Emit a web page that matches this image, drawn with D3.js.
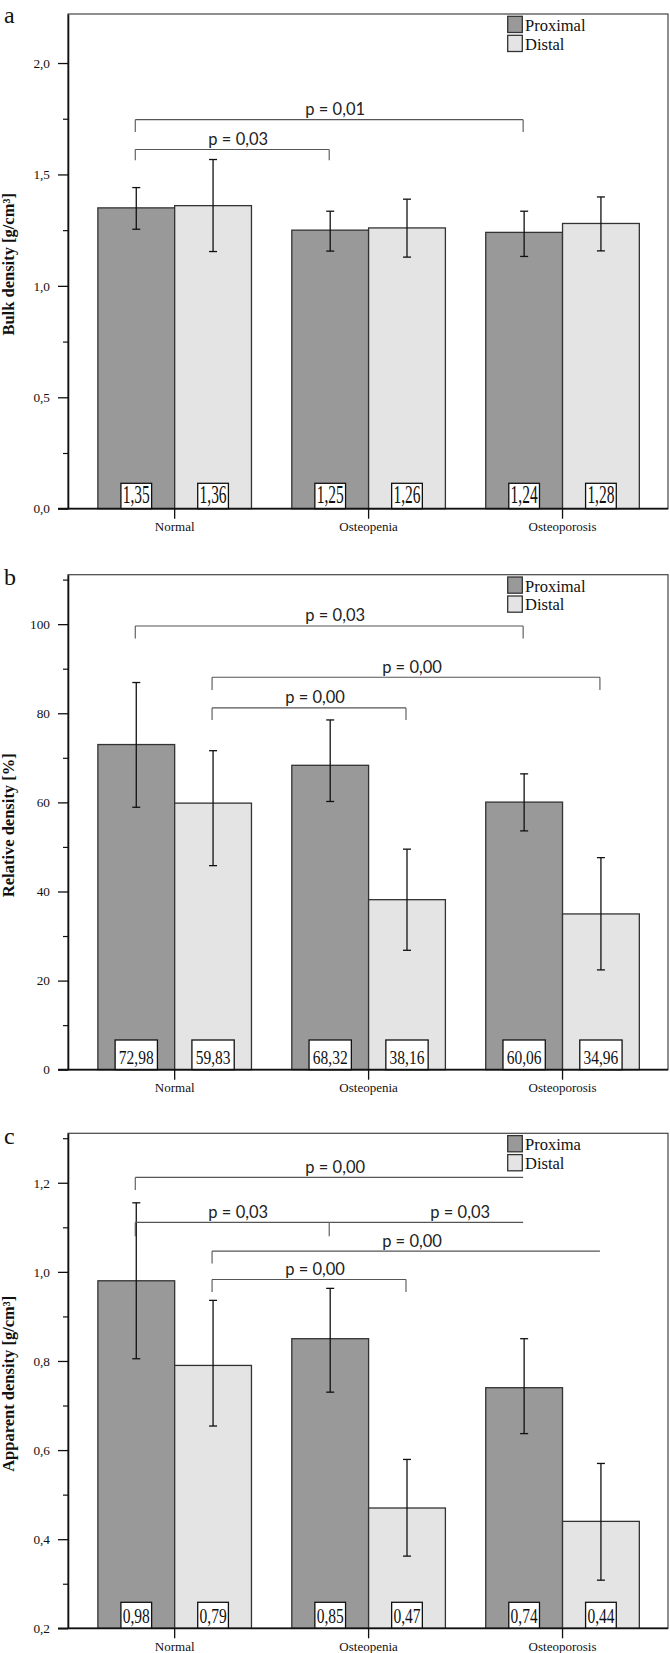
<!DOCTYPE html>
<html><head><meta charset="utf-8">
<script src="https://cdn.jsdelivr.net/npm/d3@7"></script>
<style>body{margin:0;background:#fff} svg{display:block}</style>
</head><body><svg id="chart" width="670" height="1653"></svg>
<script>
const categories = ["Normal", "Osteopenia", "Osteoporosis"];
const seriesNames = ["Proximal", "Distal"];

// Panel a: Bulk density
const bulkProximal = [1.35, 1.25, 1.24];
const bulkDistal = [1.36, 1.26, 1.28];
const bulkProximalHi = [1.441, 1.335, 1.335];
const bulkProximalLo = [1.254, 1.156, 1.132];
const bulkDistalHi = [1.567, 1.389, 1.399];
const bulkDistalLo = [1.154, 1.129, 1.157];
const bulkTicks = [0, 0.5, 1.0, 1.5, 2.0];
const bulkMinorTicks = [0.25, 0.75, 1.25, 1.75];
const bulkBrackets = [
  {from: [0, 0], to: [2, 0], y: 1.746, leg: 1.69, legs: "both", label: "p = 0,01"},
  {from: [0, 0], to: [1, 0], y: 1.612, leg: 1.564, legs: "both", label: "p = 0,03"}
];

// Panel b: Relative density
const relProximal = [72.98, 68.32, 60.06];
const relDistal = [59.83, 38.16, 34.96];
const relProximalHi = [86.9, 78.5, 66.4];
const relProximalLo = [58.9, 60.2, 53.6];
const relDistalHi = [71.6, 49.5, 47.6];
const relDistalLo = [45.8, 26.8, 22.4];
const relTicks = [0, 20, 40, 60, 80, 100];
const relMinorTicks = [10, 30, 50, 70, 90, 110];
const relBrackets = [
  {from: [0, 0], to: [2, 0], y: 99.6, leg: 96.8, legs: "both", label: "p = 0,03"},
  {from: [0, 1], to: [2, 1], y: 88.1, leg: 85.2, legs: "both", label: "p = 0,00"},
  {from: [0, 1], to: [1, 1], y: 81.2, leg: 78.5, legs: "both", label: "p = 0,00"}
];

// Panel c: Apparent density
const appProximal = [0.98, 0.85, 0.74];
const appDistal = [0.79, 0.47, 0.44];
const appProximalHi = [1.155, 0.963, 0.850];
const appProximalLo = [0.805, 0.730, 0.637];
const appDistalHi = [0.936, 0.579, 0.570];
const appDistalLo = [0.654, 0.362, 0.308];
const appTicks = [0.2, 0.4, 0.6, 0.8, 1.0, 1.2];
const appMinorTicks = [0.3, 0.5, 0.7, 0.9, 1.1, 1.3];
const appBrackets = [
  {from: [0, 0], to: [2, 0], y: 1.212, leg: 1.184, legs: "left", label: "p = 0,00"},
  {from: [0, 0], to: [1, 0], y: 1.111, leg: 1.08, legs: "both", label: "p = 0,03"},
  {from: [1, 0], to: [2, 0], y: 1.111, leg: 1.08, legs: "none", label: "p = 0,03"},
  {from: [0, 1], to: [2, 1], y: 1.0465, leg: 1.019, legs: "left", label: "p = 0,00"},
  {from: [0, 1], to: [1, 1], y: 0.983, leg: 0.955, legs: "both", label: "p = 0,00"}
];

const panels = [
  {letter: "a", letterY: 22.7, top: 14, bottom: 508.7, domain: [0, 2.22], title: "Bulk density [g/cm³]",
   values: [bulkProximal, bulkDistal], hi: [bulkProximalHi, bulkDistalHi], lo: [bulkProximalLo, bulkDistalLo],
   ticks: bulkTicks, minor: bulkMinorTicks, tickFmt: ".1f", brackets: bulkBrackets,
   legend: ["Proximal", "Distal"], boxW: 30.7, boxH: 25.4, labelScale: 1.6, nudge: []},
  {letter: "b", letterY: 585, top: 574.7, bottom: 1069.7, domain: [0, 111.1], title: "Relative density [%]",
   values: [relProximal, relDistal], hi: [relProximalHi, relDistalHi], lo: [relProximalLo, relDistalLo],
   ticks: relTicks, minor: relMinorTicks, tickFmt: "d", brackets: relBrackets,
   legend: ["Proximal", "Distal"], boxW: 42.3, boxH: 29.7, labelScale: 1.26, nudge: []},
  {letter: "c", letterY: 1143.5, top: 1133.3, bottom: 1628.3, domain: [0.2, 1.311], title: "Apparent density [g/cm³]",
   values: [appProximal, appDistal], hi: [appProximalHi, appDistalHi], lo: [appProximalLo, appDistalLo],
   ticks: appTicks, minor: appMinorTicks, tickFmt: ".1f", brackets: appBrackets,
   legend: ["Proxima", "Distal"], boxW: 30.7, boxH: 26, labelScale: 1.4, nudge: [0, 0, 28, 0, 0]}
];

const L = 68, R = 668;
const serif = "'Liberation Serif', 'Times New Roman', serif";
const sans = "Lato, 'Liberation Sans', Arial, sans-serif";
const fills = ["#999999", "#e4e4e4"];
const svg = d3.select("#chart");
svg.append("rect").attr("width", 670).attr("height", 1653).attr("fill", "#fff");

const x0 = d3.scaleBand().domain(categories).range([77.7, 659.5]).paddingInner(0.208).paddingOuter(0.104);
const x1 = d3.scaleBand().domain(seriesNames).range([0, x0.bandwidth()]);
const comma = f => v => d3.format(f)(v).replace(".", ",");

function drawPanel(p) {
  const g = svg.append("g");
  const y = d3.scaleLinear().domain(p.domain).range([p.bottom, p.top]);
  const barX = (ci, si) => x0(categories[ci]) + x1(seriesNames[si]);
  const barC = (ci, si) => barX(ci, si) + x1.bandwidth() / 2;

  // frame
  g.append("rect").attr("x", L).attr("y", p.top).attr("width", R - L).attr("height", p.bottom - p.top)
    .attr("fill", "none").attr("stroke", "#444").attr("stroke-width", 1.2);

  const data = [];
  categories.forEach((c, ci) => seriesNames.forEach((s, si) => {
    data.push({ci, si, v: p.values[si][ci], hi: p.hi[si][ci], lo: p.lo[si][ci]});
  }));

  // bars
  g.selectAll("rect.bar").data(data).join("rect").attr("class", "bar")
    .attr("x", d => barX(d.ci, d.si)).attr("width", x1.bandwidth())
    .attr("y", d => y(d.v)).attr("height", d => y(p.domain[0]) - y(d.v))
    .attr("fill", d => fills[d.si]).attr("stroke", "#333").attr("stroke-width", 1.3);

  // error bars
  const cap = 4;
  const eb = g.selectAll("g.err").data(data).join("g").attr("class", "err")
    .attr("stroke", "#111").attr("stroke-width", 1.3);
  eb.append("line").attr("x1", d => barC(d.ci, d.si)).attr("x2", d => barC(d.ci, d.si))
    .attr("y1", d => y(d.hi)).attr("y2", d => y(d.lo));
  eb.append("line").attr("x1", d => barC(d.ci, d.si) - cap).attr("x2", d => barC(d.ci, d.si) + cap)
    .attr("y1", d => y(d.hi)).attr("y2", d => y(d.hi));
  eb.append("line").attr("x1", d => barC(d.ci, d.si) - cap).attr("x2", d => barC(d.ci, d.si) + cap)
    .attr("y1", d => y(d.lo)).attr("y2", d => y(d.lo));

  // value boxes
  const vb = g.selectAll("g.vbox").data(data).join("g").attr("class", "vbox");
  vb.append("rect").attr("x", d => barC(d.ci, d.si) - p.boxW / 2).attr("y", p.bottom - p.boxH)
    .attr("width", p.boxW).attr("height", p.boxH).attr("fill", "#fff").attr("stroke", "#111").attr("stroke-width", 1.3);
  vb.append("text").attr("transform", d => `translate(${barC(d.ci, d.si)},${p.bottom - 5.5}) scale(1,${p.labelScale})`)
    .attr("text-anchor", "middle").attr("font-family", serif).attr("font-size", 15.5).attr("fill", "#111")
    .text(d => comma(".2f")(d.v));

  // y axis
  const ya = g.append("g").attr("transform", `translate(${L},0)`)
    .call(d3.axisLeft(y).tickValues(p.ticks).tickSize(10).tickSizeOuter(0).tickPadding(8).tickFormat(comma(p.tickFmt)));
  ya.attr("font-family", serif).attr("font-size", 13.3);
  ya.select(".domain").attr("stroke", "#111").attr("stroke-width", 1.6);
  ya.selectAll(".tick line").attr("stroke", "#111").attr("stroke-width", 1.3);
  ya.selectAll(".tick text").attr("fill", "#111");
  const ym = g.append("g").attr("transform", `translate(${L},0)`)
    .call(d3.axisLeft(y).tickValues(p.minor).tickSize(5).tickFormat(""));
  ym.select(".domain").remove();
  ym.selectAll(".tick line").attr("stroke", "#111").attr("stroke-width", 1.2);

  // x axis
  g.append("line").attr("x1", L - 10).attr("x2", R).attr("y1", p.bottom).attr("y2", p.bottom)
    .attr("stroke", "#111").attr("stroke-width", 1.7);
  const xa = g.append("g").attr("transform", `translate(0,${p.bottom})`)
    .call(d3.axisBottom(x0).tickSize(10).tickPadding(3));
  xa.select(".domain").remove();
  xa.attr("font-family", serif).attr("font-size", 13);
  xa.selectAll(".tick line").attr("stroke", "#111").attr("stroke-width", 1.3);
  xa.selectAll(".tick text").attr("fill", "#111");

  // y title
  g.append("text").attr("transform", `translate(14,${(p.top + p.bottom) / 2 + 3}) rotate(-90)`)
    .attr("text-anchor", "middle").attr("font-family", serif).attr("font-weight", "bold")
    .attr("font-size", 16.5).attr("fill", "#111").text(p.title);

  // panel letter
  g.append("text").attr("x", 4).attr("y", p.letterY).attr("font-family", serif).attr("font-size", 24)
    .attr("fill", "#111").text(p.letter);

  // brackets
  const bg = g.selectAll("g.br").data(p.brackets).join("g").attr("class", "br");
  bg.append("path").attr("fill", "none").attr("stroke", "#555").attr("stroke-width", 1.1)
    .attr("d", b => {
      const xa_ = barC(b.from[0], b.from[1]) - 1, xb = barC(b.to[0], b.to[1]) - 1;
      const yl = y(b.y), yg = y(b.leg);
      let d = `M${xa_},${yl}H${xb}`;
      if (b.legs === "both" || b.legs === "left") d += `M${xa_},${yl}V${yg}`;
      if (b.legs === "both") d += `M${xb},${yl}V${yg}`;
      return d;
    });
  bg.append("text").attr("x", (b, i) => (barC(b.from[0], b.from[1]) + barC(b.to[0], b.to[1])) / 2 + 5 + (p.nudge[i] || 0))
    .attr("y", b => y(b.y) - 4.5).attr("text-anchor", "middle").attr("font-family", sans)
    .attr("font-size", 16.5).attr("fill", "#222").text(b => b.label);

  // legend
  const lg = g.append("g");
  p.legend.forEach((name, i) => {
    lg.append("rect").attr("x", 507.7).attr("y", p.top + 2.3 + i * 19).attr("width", 14.6).attr("height", 16.2)
      .attr("fill", fills[i]).attr("stroke", "#333").attr("stroke-width", 1.3);
    lg.append("text").attr("x", 525).attr("y", p.top + 16.8 + i * 18.7).attr("font-family", serif)
      .attr("font-size", 16.5).attr("fill", "#111").text(name);
  });
}

panels.forEach(drawPanel);
</script></body></html>
